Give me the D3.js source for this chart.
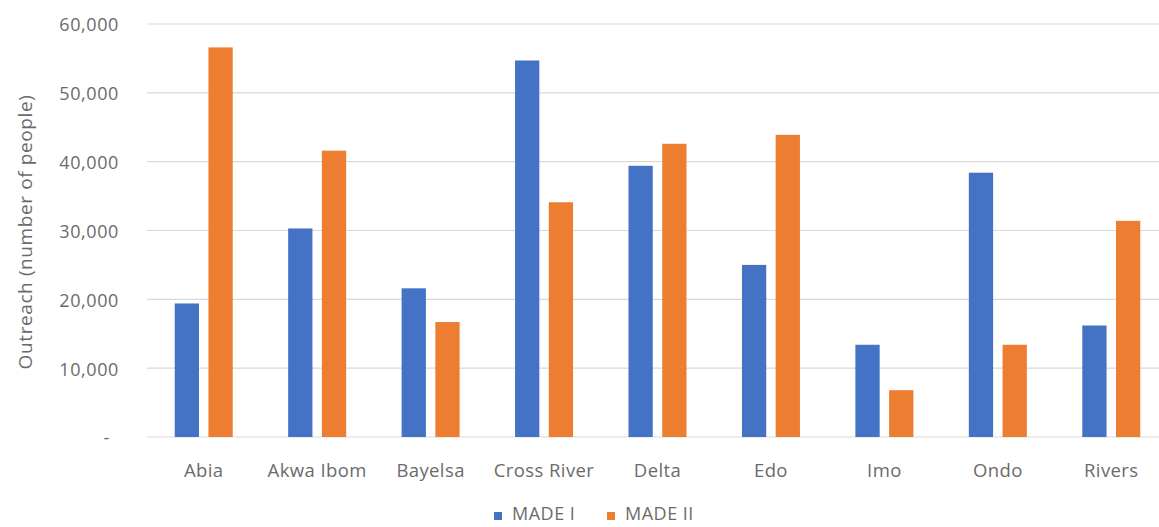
<!DOCTYPE html>
<html>
<head>
<meta charset="utf-8">
<script src="https://cdn.jsdelivr.net/npm/d3@7"></script>
<style>
  html, body { margin: 0; padding: 0; background: #ffffff; }
  svg { display: block; }
  text { font-family: "Open Sans", Lato, sans-serif; fill: #6b6b6b; }
</style>
</head>
<body>
<svg id="chart" width="1159" height="527"></svg>
<script>
const categories = ["Abia", "Akwa Ibom", "Bayelsa", "Cross River", "Delta", "Edo", "Imo", "Ondo", "Rivers"];
const seriesNames = ["MADE I", "MADE II"];
const madeI  = [19400, 30300, 21600, 54700, 39400, 25000, 13400, 38400, 16200];
const madeII = [56600, 41600, 16700, 34100, 42600, 43900, 6800, 13400, 31400];
const yTicks = [0, 10000, 20000, 30000, 40000, 50000, 60000];
const yTitle = "Outreach (number of people)";
const colors = ["#4472C4", "#ED7D31"];

const svg = d3.select("#chart");
const W = 1159, H = 527;
const plot = { left: 147, right: 1168, top: 24, bottom: 437 };
const textColor = "#6b6b6b";

const x = d3.scaleBand().domain(categories).range([plot.left, plot.right]).paddingInner(0).paddingOuter(0);
const xSub = d3.scaleBand().domain(seriesNames).range([0, 58]).paddingInner(0.28).paddingOuter(0);
const y = d3.scaleLinear().domain([0, 60000]).range([plot.bottom, plot.top]);

// gridlines
svg.append("g").selectAll("line").data(yTicks).join("line")
  .attr("x1", plot.left).attr("x2", W)
  .attr("y1", d => y(d)).attr("y2", d => y(d))
  .attr("stroke", "#d9d9d9").attr("stroke-width", 1.2);

// y axis labels
const yAxis = d3.axisLeft(y).tickValues(yTicks).tickSize(0).tickPadding(0)
  .tickFormat(d => d === 0 ? "-" : d3.format(",")(d));
const yg = svg.append("g").attr("transform", `translate(${119},0)`).call(yAxis);
yg.select(".domain").remove();
yg.selectAll("text").style("font-size", "18px").style("letter-spacing", "0.6px")
  .attr("fill", textColor).attr("dy", "0.38em");
yg.selectAll(".tick").filter(d => d === 0).select("text").attr("dx", "-0.5em");

// bars
const data = categories.map((c, i) => ({ cat: c, values: [madeI[i], madeII[i]] }));
const groups = svg.append("g").selectAll("g").data(data).join("g")
  .attr("transform", d => `translate(${x(d.cat) + (x.bandwidth() - 58) / 2},0)`);
groups.selectAll("rect").data(d => d.values.map((v, j) => ({ s: seriesNames[j], v, j })))
  .join("rect")
  .attr("x", d => xSub(d.s))
  .attr("width", xSub.bandwidth())
  .attr("y", d => y(d.v))
  .attr("height", d => y(0) - y(d.v))
  .attr("fill", d => colors[d.j]);

// x axis labels
const xAxis = d3.axisBottom(x).tickSize(0).tickPadding(0);
const xg = svg.append("g").attr("transform", `translate(0,${plot.bottom})`).call(xAxis);
xg.select(".domain").remove();
xg.selectAll("text").style("font-size", "18.5px").style("letter-spacing", "0.4px")
  .attr("fill", textColor).attr("y", 40).attr("dy", "0");

// y title
svg.append("text")
  .attr("transform", `translate(25,${232}) rotate(-90)`)
  .attr("text-anchor", "middle").attr("dominant-baseline", "central")
  .style("font-size", "19px").style("letter-spacing", "0.6px").attr("fill", textColor)
  .text(yTitle);

// legend
const legend = svg.append("g").attr("transform", "translate(494,0)");
const legendOffsets = [0, 113];
seriesNames.forEach((s, i) => {
  const g = legend.append("g").attr("transform", `translate(${legendOffsets[i]},0)`);
  g.append("rect").attr("x", 0).attr("y", 512).attr("width", 8).attr("height", 8).attr("fill", colors[i]);
  g.append("text").attr("x", 18).attr("y", 520).style("font-size", "18px").style("letter-spacing", "0.5px")
    .attr("fill", textColor).text(s);
});
</script>
</body>
</html>
